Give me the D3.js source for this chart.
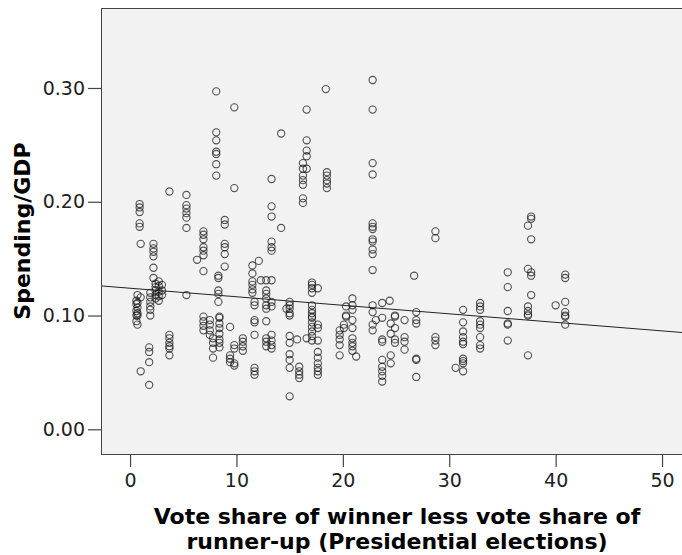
<!DOCTYPE html>
<html>
<head>
<meta charset="utf-8">
<script src="https://cdn.jsdelivr.net/npm/d3@7"></script>
<style>
  html, body { margin: 0; padding: 0; background: #ffffff; }
  svg { display: block; }
  text { font-family: "DejaVu Sans", Verdana, sans-serif; }
</style>
</head>
<body>
<svg id="chart" width="682" height="555"></svg>
<script>
// Winning margin (percentage points) for each cluster of election-years
const groupMargins = [
  0.6, 0.7, 0.9, 1.0, 1.8, 1.9, 2.2, 2.4, 2.7, 3.0,
  3.7, 5.3, 6.3, 6.9, 7.5, 7.8, 8.1, 8.3, 8.4, 8.9,
  9.4, 9.8, 10.6, 11.5, 11.7, 12.1, 12.3, 12.8, 13.3, 14.2,
  14.7, 15.0, 15.7, 15.9, 16.25, 16.6, 17.1, 17.65, 18.4, 18.5,
  19.7, 20.1, 20.3, 20.9, 21.25, 22.8, 23.1, 23.7, 24.4, 24.5,
  24.9, 25.8, 26.7, 26.9, 28.7, 30.6, 31.3, 32.9, 35.5, 37.4,
  37.7, 40.0, 40.9
];

// Spending/GDP observations belonging to each margin above
const groupSpending = [
  [0.113, 0.110, 0.104, 0.100, 0.095],
  [0.118, 0.111, 0.107, 0.102, 0.100, 0.092],
  [0.198, 0.195, 0.191, 0.181, 0.178],
  [0.163, 0.116, 0.051],
  [0.072, 0.068, 0.059, 0.039],
  [0.120, 0.116, 0.112, 0.108, 0.105, 0.100],
  [0.163, 0.159, 0.156, 0.152, 0.142, 0.133],
  [0.128, 0.125, 0.122, 0.118, 0.115],
  [0.130, 0.126, 0.121, 0.117, 0.113],
  [0.127, 0.122, 0.118],
  [0.209, 0.083, 0.080, 0.076, 0.073, 0.071, 0.065],
  [0.206, 0.197, 0.194, 0.190, 0.186, 0.177, 0.118],
  [0.149],
  [0.174, 0.171, 0.167, 0.160, 0.157, 0.153, 0.139, 0.099, 0.095, 0.091, 0.087],
  [0.096, 0.092, 0.087, 0.083],
  [0.080, 0.076, 0.071, 0.063],
  [0.297, 0.261, 0.254, 0.244, 0.242, 0.233, 0.223],
  [0.135, 0.133, 0.122, 0.119, 0.112],
  [0.099, 0.098, 0.093, 0.089, 0.084, 0.079, 0.076, 0.072],
  [0.184, 0.180, 0.163, 0.160, 0.154, 0.143],
  [0.090, 0.065, 0.062, 0.059],
  [0.283, 0.212, 0.074, 0.071, 0.058, 0.056],
  [0.080, 0.077, 0.073, 0.069],
  [0.144, 0.137, 0.130, 0.127, 0.123, 0.120],
  [0.112, 0.109, 0.096, 0.094, 0.083, 0.054, 0.051, 0.048],
  [0.148],
  [0.131],
  [0.131, 0.122, 0.119, 0.115, 0.109, 0.106, 0.095, 0.080, 0.077, 0.073],
  [0.220, 0.196, 0.187, 0.165, 0.160, 0.157, 0.131, 0.112, 0.108, 0.083, 0.078, 0.074, 0.071],
  [0.260, 0.177],
  [0.106],
  [0.112, 0.109, 0.106, 0.102, 0.100, 0.082, 0.076, 0.066, 0.061, 0.054, 0.029],
  [0.079],
  [0.055, 0.051, 0.048, 0.045],
  [0.234, 0.229, 0.223, 0.219, 0.215, 0.203, 0.199],
  [0.281, 0.254, 0.245, 0.240, 0.229, 0.080],
  [0.129, 0.127, 0.124, 0.120, 0.109, 0.105, 0.102, 0.099, 0.098, 0.094, 0.090, 0.086, 0.082, 0.078],
  [0.124, 0.092, 0.089, 0.078, 0.068, 0.063, 0.058, 0.054, 0.051, 0.048],
  [0.299],
  [0.226, 0.223, 0.219, 0.216, 0.212],
  [0.087, 0.083, 0.079, 0.074, 0.065],
  [0.092, 0.089],
  [0.108, 0.100, 0.099],
  [0.115, 0.109, 0.105, 0.096, 0.089, 0.080, 0.076, 0.073, 0.069],
  [0.064],
  [0.307, 0.281, 0.234, 0.224, 0.181, 0.178, 0.176, 0.167, 0.165, 0.158, 0.154, 0.140, 0.109, 0.103, 0.092, 0.087],
  [0.096],
  [0.111, 0.098, 0.079, 0.077, 0.061, 0.055, 0.051, 0.047, 0.042],
  [0.113],
  [0.093, 0.084, 0.065, 0.058],
  [0.100, 0.099, 0.089, 0.079, 0.076],
  [0.096, 0.081, 0.077, 0.070],
  [0.135],
  [0.103, 0.096, 0.093, 0.062, 0.061, 0.046],
  [0.174, 0.168, 0.081, 0.078, 0.074],
  [0.054],
  [0.105, 0.094, 0.086, 0.081, 0.077, 0.075, 0.062, 0.060, 0.058, 0.051],
  [0.111, 0.108, 0.105, 0.095, 0.092, 0.089, 0.081, 0.074, 0.071],
  [0.138, 0.125, 0.104, 0.093, 0.092, 0.078],
  [0.179, 0.141, 0.108, 0.104, 0.101, 0.100, 0.065],
  [0.187, 0.185, 0.167, 0.138, 0.135, 0.118],
  [0.109],
  [0.136, 0.133, 0.112, 0.103, 0.100, 0.099, 0.092]
];

const xTickValues = [0, 10, 20, 30, 40, 50];
const yTickValues = [0.00, 0.10, 0.20, 0.30];

// Linear fit line: spending = intercept + slope * margin
const fitIntercept = 0.1240;
const fitSlope = -0.00075;

const xTitleLines = ["Vote share of winner less vote share of", "runner-up (Presidential elections)"];
const yTitle = "Spending/GDP";

// ---- layout ----
const svg = d3.select("#chart");
const plot = { left: 101, top: 8, right: 683, bottom: 454 };

const x = d3.scaleLinear().domain([-2.73, 51.97]).range([plot.left, plot.right]);
const y = d3.scaleLinear().domain([-0.0217, 0.3703]).range([plot.bottom, plot.top]);

const points = [];
groupMargins.forEach((m, i) => groupSpending[i].forEach(v => points.push({ m, v })));

// plot background and frame
svg.append("rect")
  .attr("x", plot.left + 0.5).attr("y", plot.top + 0.5)
  .attr("width", plot.right - plot.left).attr("height", plot.bottom - plot.top)
  .attr("fill", "#f2f2f2").attr("stroke", "#444").attr("stroke-width", 1);

svg.append("clipPath").attr("id", "plotClip")
  .append("rect")
  .attr("x", plot.left + 1).attr("y", plot.top + 1)
  .attr("width", plot.right - plot.left - 1).attr("height", plot.bottom - plot.top - 1);

const inner = svg.append("g").attr("clip-path", "url(#plotClip)");

// scatter points
inner.selectAll("circle.pt")
  .data(points)
  .join("circle")
  .attr("class", "pt")
  .attr("cx", d => x(d.m))
  .attr("cy", d => y(d.v))
  .attr("r", 3.6)
  .attr("fill", "none")
  .attr("stroke", "#1a1a1a")
  .attr("stroke-opacity", 0.75)
  .attr("stroke-width", 1.1);

// fit line across the full x range
const [x0, x1] = x.domain();
inner.append("line")
  .attr("x1", x(x0)).attr("y1", y(fitIntercept + fitSlope * x0))
  .attr("x2", x(x1)).attr("y2", y(fitIntercept + fitSlope * x1))
  .attr("stroke", "#222").attr("stroke-width", 1);

// axes
const yAxis = d3.axisLeft(y)
  .tickValues(yTickValues)
  .tickFormat(d3.format(".2f"))
  .tickSize(13)
  .tickPadding(3);

const gy = svg.append("g")
  .attr("transform", `translate(${plot.left},0)`)
  .call(yAxis);

const xAxis = d3.axisBottom(x)
  .tickValues(xTickValues)
  .tickFormat(d3.format("d"))
  .tickSize(13)
  .tickPadding(7);

const gx = svg.append("g")
  .attr("transform", `translate(0,${plot.bottom})`)
  .call(xAxis);

[gx, gy].forEach(g => {
  g.select(".domain").remove();
  g.selectAll(".tick line").attr("stroke", "#444").attr("stroke-width", 1.2);
  g.selectAll(".tick text")
    .attr("fill", "#222")
    .style("font-size", "19px")
    .style("font-family", "'DejaVu Sans', sans-serif");
});

// axis titles
svg.append("text")
  .attr("text-anchor", "middle")
  .style("font-size", "22px")
  .style("font-weight", "bold")
  .attr("fill", "#000")
  .selectAll("tspan")
  .data(xTitleLines)
  .join("tspan")
  .attr("x", 397)
  .attr("y", (d, i) => 524 + i * 25)
  .text(d => d);

svg.append("text")
  .attr("transform", "translate(30,231) rotate(-90)")
  .attr("text-anchor", "middle")
  .style("font-size", "22px")
  .style("font-weight", "bold")
  .attr("fill", "#000")
  .text(yTitle);
</script>
</body>
</html>
